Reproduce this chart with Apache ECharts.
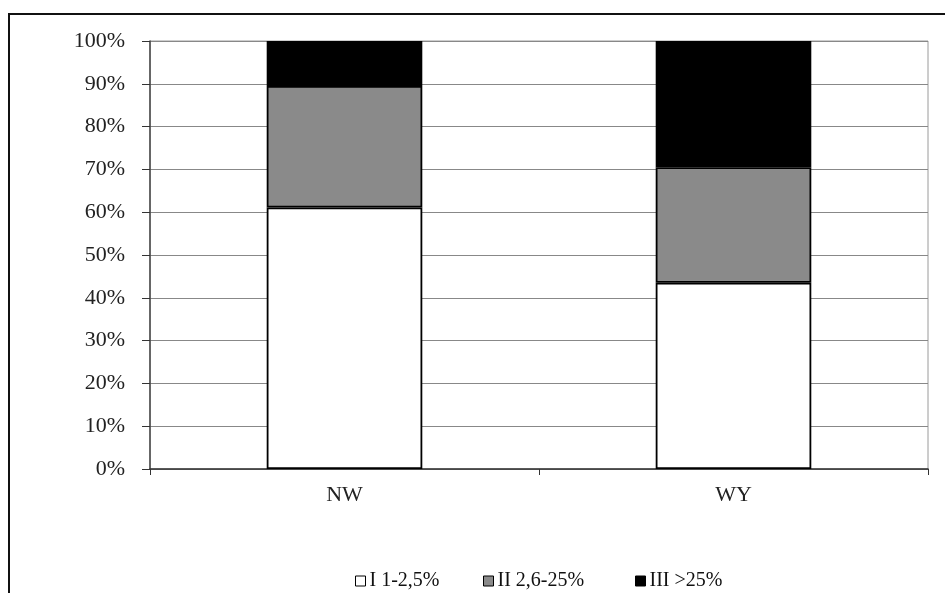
<!DOCTYPE html>
<html>
<head>
<meta charset="utf-8">
<script src="https://cdn.jsdelivr.net/npm/echarts@6/dist/echarts.min.js"></script>
<style>
  html, body { margin: 0; padding: 0; background: #fff; }
  #chart { width: 945px; height: 593px; }
</style>
</head>
<body>
<div id="chart"></div>
<script>
// Share of each class per site, in percent
const categories = ['NW', 'WY'];
const seriesNames = ['I 1-2,5%', 'II 2,6-25%', 'III >25%'];
const classI = [61.1, 43.5];
const classII = [28.4, 27.0];
const classIII = [10.5, 29.5];
const yTicks = [0, 10, 20, 30, 40, 50, 60, 70, 80, 90, 100];

const fills = ['#ffffff', '#8a8a8a', '#000000'];
const font = '"Liberation Serif", "Times New Roman", serif';

const chart = echarts.init(document.getElementById('chart'), null, { renderer: 'canvas' });

const values = [classI, classII, classIII];
const series = seriesNames.map((name, i) => ({
  name: name,
  type: 'bar',
  stack: 'total',
  barWidth: '40%',
  data: values[i],
  itemStyle: { color: fills[i], borderColor: '#000', borderWidth: 1.8 },
  emphasis: { disabled: true }
}));

// one legend block per entry so each sits at its own spot
const legendLefts = [350, 478, 630];
const legends = seriesNames.map((name, i) => ({
  data: [name],
  left: legendLefts[i],
  top: 566,
  icon: 'rect',
  itemWidth: 10,
  itemHeight: 10,
  itemGap: 6,
  selectedMode: false,
  itemStyle: { borderColor: '#000', borderWidth: 1 },
  textStyle: { fontFamily: font, fontSize: 20, color: '#111', padding: [0, 0, 0, -1] }
}));

chart.setOption({
  animation: false,
  backgroundColor: '#fff',
  grid: {
    left: 150, right: 17, top: 41, bottom: 124,
    show: true, borderColor: '#9a9a9a', borderWidth: 1, backgroundColor: 'transparent'
  },
  legend: legends,
  xAxis: {
    type: 'category',
    data: categories,
    axisLine: { lineStyle: { color: '#333', width: 1.5 } },
    axisTick: { show: true, length: 6, alignWithLabel: false, lineStyle: { color: '#333' } },
    axisLabel: { fontFamily: font, fontSize: 22, color: '#222', margin: 15 },
    splitLine: { show: false }
  },
  yAxis: {
    type: 'value',
    min: yTicks[0],
    max: yTicks[yTicks.length - 1],
    interval: 10,
    axisLine: { show: true, lineStyle: { color: '#444', width: 1.5 } },
    axisTick: { show: true, length: 8, lineStyle: { color: '#333' } },
    axisLabel: { fontFamily: font, fontSize: 22, color: '#222', margin: 25, formatter: '{value}%' },
    splitLine: { show: true, lineStyle: { color: '#888', width: 1 } }
  },
  graphic: [{
    type: 'polyline',
    shape: { points: [[9, 593], [9, 14], [945, 14]] },
    style: { stroke: '#111', lineWidth: 2, fill: null },
    silent: true
  }],
  series: series
});
</script>
</body>
</html>
